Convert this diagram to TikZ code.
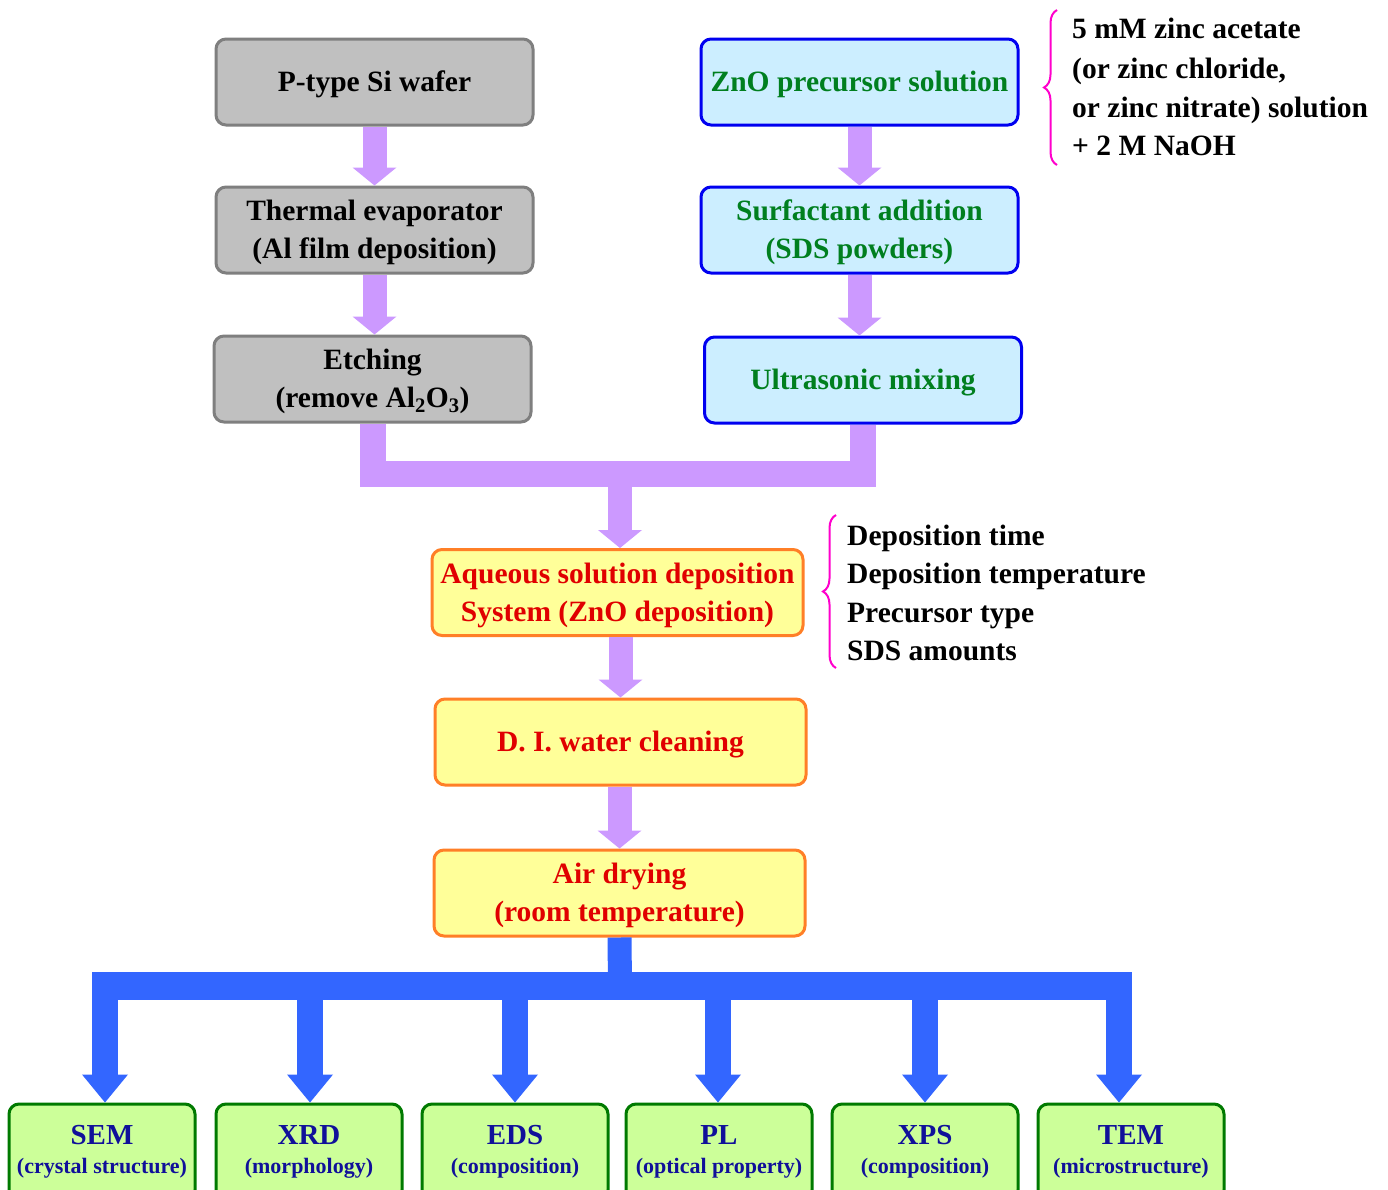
\documentclass[tikz,border=0pt]{standalone}
\usepackage{fontspec}
\setmainfont{Liberation Serif}
\usetikzlibrary{arrows.meta,decorations.pathreplacing}
\definecolor{grayfill}{HTML}{C0C0C0}
\definecolor{grayline}{HTML}{7F7F7F}
\definecolor{bluefill}{HTML}{CCEEFF}
\definecolor{blueline}{HTML}{0000F0}
\definecolor{greentext}{HTML}{007F1F}
\definecolor{orangefill}{HTML}{FFFF99}
\definecolor{orangeline}{HTML}{FF7F27}
\definecolor{redtext}{HTML}{E00000}
\definecolor{greenfill}{HTML}{CCFF99}
\definecolor{greenline}{HTML}{007A00}
\definecolor{navytext}{HTML}{10109A}
\definecolor{purplearrow}{HTML}{CC99FF}
\definecolor{bluearrow}{HTML}{3366FF}
\definecolor{bracecol}{HTML}{FF00CC}
\newcommand\tup{\rule{0pt}{26pt}}
\newcommand\subline[1]{{\fontsize{22}{29}\selectfont #1}}
\begin{document}
\begin{tikzpicture}[x=1pt,y=-1pt,
  box/.style={rounded corners=10pt, line width=3pt, minimum width=317pt, minimum height=86pt,
    inner sep=0pt, align=center, font=\bfseries\fontsize{29.5}{38}\selectfont},
  graybox/.style={box, draw=grayline, fill=grayfill, text=black},
  bluebox/.style={box, draw=blueline, fill=bluefill, text=greentext},
  orangebox/.style={box, draw=orangeline, fill=orangefill, text=redtext, minimum width=371pt},
  greenbox/.style={box, draw=greenline, fill=greenfill, text=navytext, minimum width=186pt,
    minimum height=96pt, font=\bfseries\fontsize{29}{29}\selectfont},
  parrow/.style={draw=purplearrow, line width=24pt,
    -{Triangle[width=44pt,length=18pt,line width=0pt]}},
  pline/.style={draw=purplearrow, line width=26pt, line join=miter},
  barrow/.style={draw=bluearrow, line width=26pt,
    -{Triangle[width=46pt,length=28pt,line width=0pt]}},
  bline/.style={draw=bluearrow, line width=28pt},
  bracedraw/.style={draw=bracecol, line width=2pt, decorate, decoration={brace, amplitude=13pt}},
  note/.style={anchor=base west, inner sep=0pt, font=\bfseries\fontsize{29.5}{38}\selectfont}
]
\useasboundingbox (0,0) rectangle (1388,1189);
\fill[white] (0,0) rectangle (1388,1189);

% left column
\node[graybox] (wafer) at (374.5,82) {\tup P-type Si wafer};
\node[graybox] (therm) at (374.5,230) {\tup Thermal evaporator\\(Al film deposition)};
\node[graybox] (etch) at (372.5,379) {\tup Etching\\(remove Al\textsubscript{2}O\textsubscript{3})};
% right column
\node[bluebox] (zno) at (859.5,82) {\tup ZnO precursor solution};
\node[bluebox] (surf) at (859.5,230) {\tup Surfactant addition\\(SDS powders)};
\node[bluebox] (ultra) at (863,380) {\tup Ultrasonic mixing};
% middle
\node[orangebox] (aq) at (617.5,592.5) {\tup Aqueous solution deposition\\System (ZnO deposition)};
\node[orangebox] (di) at (620.5,742) {\tup D. I. water cleaning};
\node[orangebox] (air) at (619.5,893) {\tup Air drying\\(room temperature)};
% bottom
\node[greenbox] (sem) at (102,1152) {SEM\\\subline{(crystal structure)}};
\node[greenbox] (xrd) at (309,1152) {XRD\\\subline{(morphology)}};
\node[greenbox] (eds) at (515,1152) {EDS\\\subline{(composition)}};
\node[greenbox] (pl) at (719,1152) {PL\\\subline{(optical property)}};
\node[greenbox] (xps) at (925,1152) {XPS\\\subline{(composition)}};
\node[greenbox] (tem) at (1131,1152) {TEM\\\subline{(microstructure)}};

% purple arrows
\draw[parrow] (wafer.south) -- (therm.north);
\draw[parrow] (therm.south) -- (therm.south |- etch.north);
\draw[parrow] (zno.south) -- (surf.north);
\draw[parrow] (surf.south) -- (surf.south |- ultra.north);
\coordinate (join) at (620,474);
\draw[pline] (etch.south) |- (join) -| (ultra.south);
\draw[parrow] (join) -- (join |- aq.north);
\draw[parrow] (di.north |- aq.south) -- (di.north);
\draw[parrow] (air.north |- di.south) -- (air.north);

% blue arrows
\coordinate (bj) at (620,986);
\coordinate (bL) at (92,986);
\coordinate (bR) at (1132,986);
\draw[draw=bluearrow, line width=24pt] (air.south) -- (bj);
\draw[bline] (bL) -- (bR);
\coordinate (t1) at (105,986);
\coordinate (t2) at (310,986);
\coordinate (t3) at (515,986);
\coordinate (t4) at (718,986);
\coordinate (t5) at (925,986);
\coordinate (t6) at (1119,986);
\draw[barrow] (t1) -- (t1 |- sem.north);
\draw[barrow] (t2) -- (t2 |- xrd.north);
\draw[barrow] (t3) -- (t3 |- eds.north);
\draw[barrow] (t4) -- (t4 |- pl.north);
\draw[barrow] (t5) -- (t5 |- xps.north);
\draw[barrow] (t6) -- (t6 |- tem.north);

% braces and notes
\draw[bracedraw] (1057,165) -- (1057,10);
\node[note] (n1) at (1072,38) {5 mM zinc acetate};
\node[note] (n2) at (1072,78) {(or zinc chloride,};
\node[note] (n3) at (1072,117) {or zinc nitrate) solution};
\node[note] (n4) at (1072,155) {+ 2 M NaOH};
\draw[bracedraw] (836,668) -- (836,515);
\node[note] (m1) at (847,545) {Deposition time};
\node[note] (m2) at (847,583) {Deposition temperature};
\node[note] (m3) at (847,622) {Precursor type};
\node[note] (m4) at (847,660) {SDS amounts};
\end{tikzpicture}
\end{document}
